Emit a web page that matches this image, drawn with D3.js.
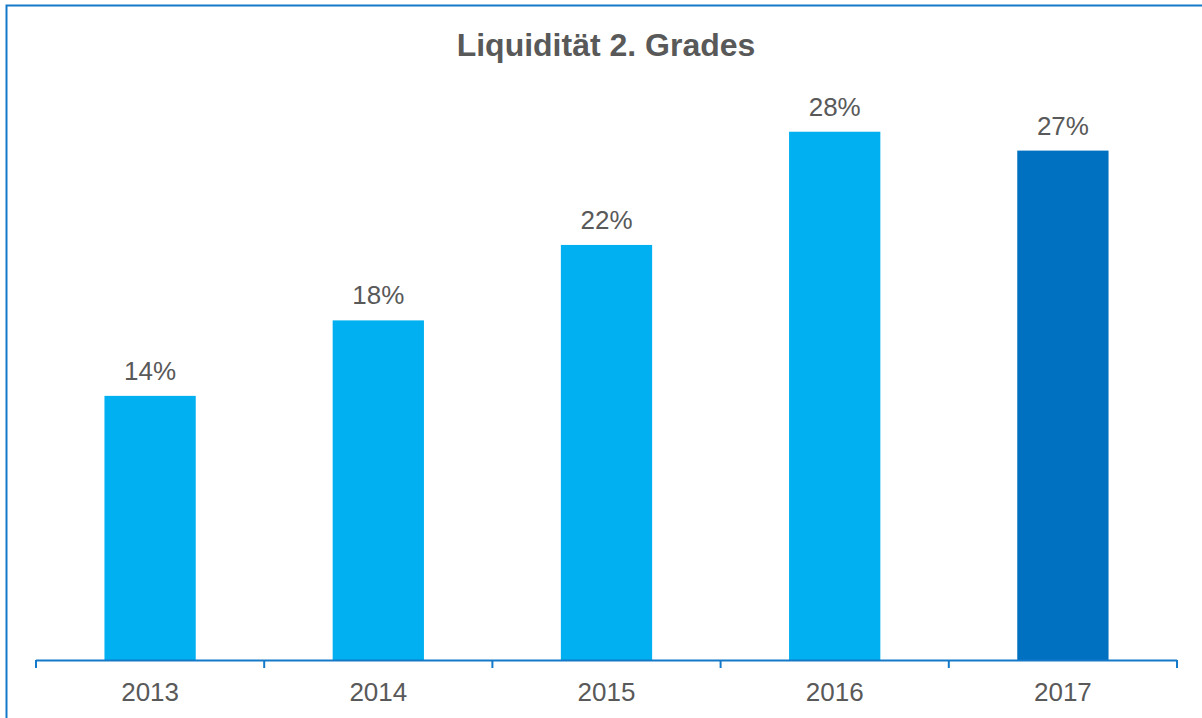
<!DOCTYPE html>
<html>
<head>
<meta charset="utf-8">
<script src="https://cdn.jsdelivr.net/npm/d3@7"></script>
<style>
  html, body { margin: 0; padding: 0; background: #fff; }
  svg { display: block; font-family: "Liberation Sans", Arial, sans-serif; }
</style>
</head>
<body>
<svg id="chart" width="1202" height="718"></svg>
<script>
// Liquidität 2. Grades, in percent
const years = ["2013", "2014", "2015", "2016", "2017"];
const values = [14, 18, 22, 28, 27];
const labels = ["14%", "18%", "22%", "28%", "27%"];
const title = "Liquidität 2. Grades";

const svg = d3.select("#chart");
const W = 1202, H = 718;

// frame around the chart area
svg.append("rect")
  .attr("x", 6.5).attr("y", 5.5)
  .attr("width", W + 20).attr("height", H + 20)
  .attr("fill", "none")
  .attr("stroke", "#1479C8")
  .attr("stroke-width", 2);

const x = d3.scaleBand()
  .domain(years)
  .range([36, 1177])
  .paddingInner(0.6)
  .paddingOuter(0.3);

const y = d3.scaleLinear()
  .domain([0, 30])
  .range([660, 94]);

// title
svg.append("text")
  .attr("x", 606).attr("y", 56)
  .attr("text-anchor", "middle")
  .attr("font-size", 32)
  .attr("font-weight", "bold")
  .attr("fill", "#595959")
  .text(title);

// bars
svg.selectAll("rect.bar")
  .data(years)
  .join("rect")
  .attr("class", "bar")
  .attr("x", d => x(d))
  .attr("width", x.bandwidth())
  .attr("y", (d, i) => y(values[i]))
  .attr("height", (d, i) => y(0) - y(values[i]))
  .attr("fill", (d, i) => i === years.length - 1 ? "#0070C0" : "#00B0F0");

// value labels
svg.selectAll("text.val")
  .data(years)
  .join("text")
  .attr("class", "val")
  .attr("x", d => x(d) + x.bandwidth() / 2)
  .attr("y", (d, i) => y(values[i]) - 16)
  .attr("text-anchor", "middle")
  .attr("font-size", 26)
  .attr("fill", "#595959")
  .text((d, i) => labels[i]);

// category axis with ticks between categories
const step = x.step();
const gap = step * x.paddingInner() / 2;
const bounds = years.map(d => x(d) - gap).concat([x(years[years.length - 1]) + x.bandwidth() + gap]);
const axis = svg.append("g");
axis.append("line")
  .attr("x1", bounds[0]).attr("x2", bounds[bounds.length - 1])
  .attr("y1", y(0) + 0.5).attr("y2", y(0) + 0.5)
  .attr("stroke", "#1479C8").attr("stroke-width", 2);
axis.selectAll("line.tick")
  .data(bounds)
  .join("line")
  .attr("class", "tick")
  .attr("x1", d => d).attr("x2", d => d)
  .attr("y1", y(0)).attr("y2", y(0) + 8)
  .attr("stroke", "#1479C8").attr("stroke-width", 2);
axis.selectAll("text")
  .data(years)
  .join("text")
  .attr("x", d => x(d) + x.bandwidth() / 2)
  .attr("y", 701)
  .attr("text-anchor", "middle")
  .attr("font-size", 26)
  .attr("fill", "#595959")
  .text(d => d);
</script>
</body>
</html>
